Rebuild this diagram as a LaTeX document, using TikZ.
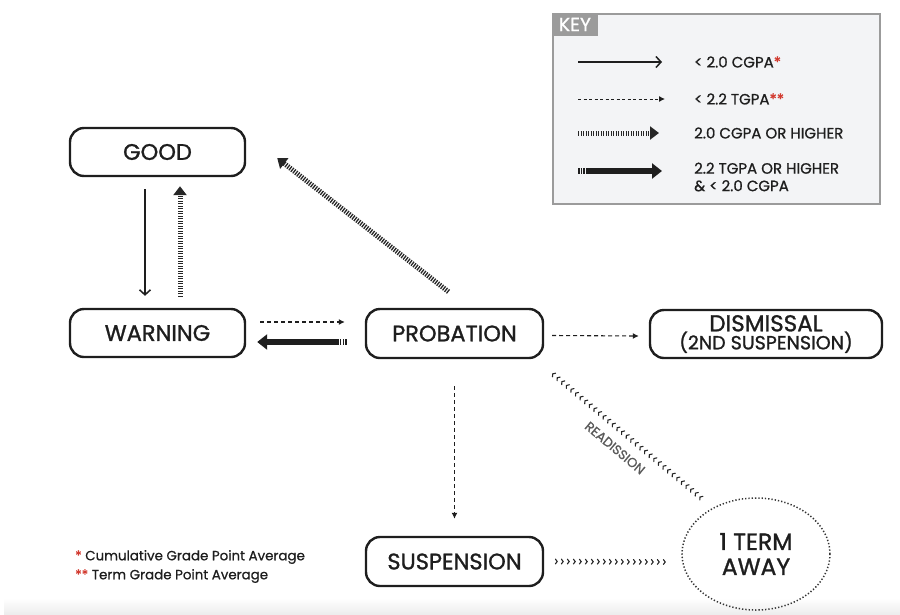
\documentclass[tikz,border=0pt]{standalone}
\usepackage{fontspec}
\setmainfont{Poppins}
\newfontfamily\lbl{Poppins}[FakeBold=1.2]
\newfontfamily\lblk{Poppins}[FakeBold=0.8]
\usetikzlibrary{arrows.meta,shapes.geometric,decorations.markings,calc}
\definecolor{ink}{HTML}{1E1E1E}
\definecolor{keygray}{HTML}{9B9B9B}
\definecolor{keyfill}{HTML}{F3F4F6}
\definecolor{star}{HTML}{D23A2F}
\tikzset{
  state/.style={draw=ink, line width=2.4pt, rounded corners=14pt, minimum width=175pt,
    minimum height=48pt, text=ink, font=\lbl\fontsize{22.5}{24}\selectfont, inner sep=2pt, align=center},
  solidarr/.style={draw=ink, line width=1.5pt, -{Straight Barb[length=5pt,width=11pt,line width=1.5pt]}},
  dasharr/.style={draw=ink, line width=1.1pt, dash pattern=on 4pt off 3pt, -{Latex[length=6pt,width=6pt]}},
  stripearr/.style={draw=black!85, line width=5pt, dash pattern=on 1.3pt off 1.2pt, -{Triangle[length=9pt,width=13pt]}},
  thickarr/.style={draw=ink, line width=6pt, dash pattern=on 1.5pt off 1.2pt on 1.5pt off 1.2pt on 1.5pt off 1.2pt on 2000pt off 0pt, -{Triangle[length=10pt,width=15pt]}},
  chev/.style={decoration={markings, mark=between positions 0 and 1 step 6pt with {\draw[line width=1.1pt, black!85, line cap=round] (-1.8pt,2.4pt) -- (0pt,0pt) -- (-1.8pt,-2.4pt);}}, postaction={decorate}},
  keytext/.style={anchor=west, text=ink, font=\lblk\fontsize{15}{17.5}\selectfont, align=left, inner sep=0pt},
  foot/.style={anchor=west, text=ink, font=\lblk\fontsize{13.4}{15}\selectfont, inner sep=0pt},
}
\begin{document}
\begin{tikzpicture}[x=1pt,y=-1pt]
\useasboundingbox (0,0) rectangle (900,614);
\shade[top color=white, bottom color=black!7] (4,598) rectangle (900,614);

% key box
\node[draw=keygray, fill=keyfill, line width=2.5pt, minimum width=327pt, minimum height=190pt, inner sep=0pt] (keybox) at (716.5,109) {};
\node[fill=keygray, text=white, anchor=north west, minimum width=46pt, minimum height=23pt, inner sep=0pt, font=\lblk\fontsize{19}{20}\selectfont] (keylbl) at (keybox.north west) {KEY};
\coordinate (k1a) at (578,62); \coordinate (k1b) at (662,62);
\coordinate (k2a) at (578,99); \coordinate (k2b) at (665,99);
\coordinate (k3a) at (578,133); \coordinate (k3b) at (659,133);
\coordinate (k4a) at (578,171); \coordinate (k4b) at (662,171);
\draw[solidarr] (k1a) -- (k1b);
\draw[dasharr, line width=0.9pt, dash pattern=on 3pt off 2.5pt] (k2a) -- (k2b);
\draw[stripearr] (k3a) -- (k3b);
\draw[thickarr] (k4a) -- (k4b);
\node[keytext] (t1) at (694,62) {< 2.0 CGPA\textcolor{star}{*}};
\node[keytext] (t2) at (694,99) {< 2.2 TGPA\textcolor{star}{**}};
\node[keytext] (t3) at (694,133) {2.0 CGPA OR HIGHER};
\node[keytext] (t4) at (694,177) {2.2 TGPA OR HIGHER\\\& < 2.0 CGPA};

% states
\node[state] (good) at (157.5,152) {GOOD};
\node[state] (warn) at (157.5,333) {WARNING};
\node[state, minimum width=177pt, minimum height=49pt] (prob) at (454.5,333.5) {PROBATION};
\node[state, minimum width=232pt, font=\lbl\fontsize{23}{24}\selectfont] (dism) at (766,334) {DISMISSAL\\[-6pt]{\fontsize{19}{20}\selectfont (2ND SUSPENSION)}};
\node[state, minimum width=177pt, minimum height=49pt] (susp) at (454.5,561.5) {SUSPENSION};
\node[ellipse, draw=black!80, line width=1.5pt, dash pattern=on 1.3pt off 2pt, minimum width=148pt, minimum height=112pt, text=ink, font=\lbl\fontsize{23.5}{25}\selectfont, align=center, inner sep=0pt] (term) at (756,554) {1 TERM\\AWAY};

% connectors
\draw[solidarr] ([xshift=-12.5pt,yshift=-12pt]good.south) -- ([xshift=-12.5pt,yshift=12pt]warn.north);
\draw[stripearr] ([xshift=22.5pt,yshift=11pt]warn.north) -- ([xshift=22.5pt,yshift=-9pt]good.south);
\draw[stripearr] ($(prob.north)+(-6,-16)$) -- ($(good.east)+(31,6)$);
\draw[dasharr] ([xshift=14pt,yshift=11pt]warn.east) -- ([xshift=-20pt,yshift=11.5pt]prob.west);
\draw[thickarr] ([xshift=-18pt,yshift=-8.5pt]prob.west) -- ([xshift=11pt,yshift=-9pt]warn.east);
\draw[dasharr] ([xshift=8pt,yshift=-2pt]prob.east) -- ([xshift=-10pt,yshift=-2pt]dism.west);
\draw[dasharr] ([yshift=-27pt]prob.south) -- ([yshift=17pt]susp.north);
\path[chev] ([xshift=13pt]susp.east) -- ($(term.west)+(-15,8)$);
\path[chev] ($(term.center)+(-56,-57)$) -- ($(prob.south east)+(4,11)$);
\node[rotate=-40, text=black!65, font=\lblk\fontsize{13}{15}\selectfont] (readm) at (615,448) {READISSION};

% footnotes
\node[foot] (f1) at (75,557) {\textcolor{star}{*} Cumulative Grade Point Average};
\node[foot] (f2) at (75,576) {\textcolor{star}{**} Term Grade Point Average};
\end{tikzpicture}
\end{document}
